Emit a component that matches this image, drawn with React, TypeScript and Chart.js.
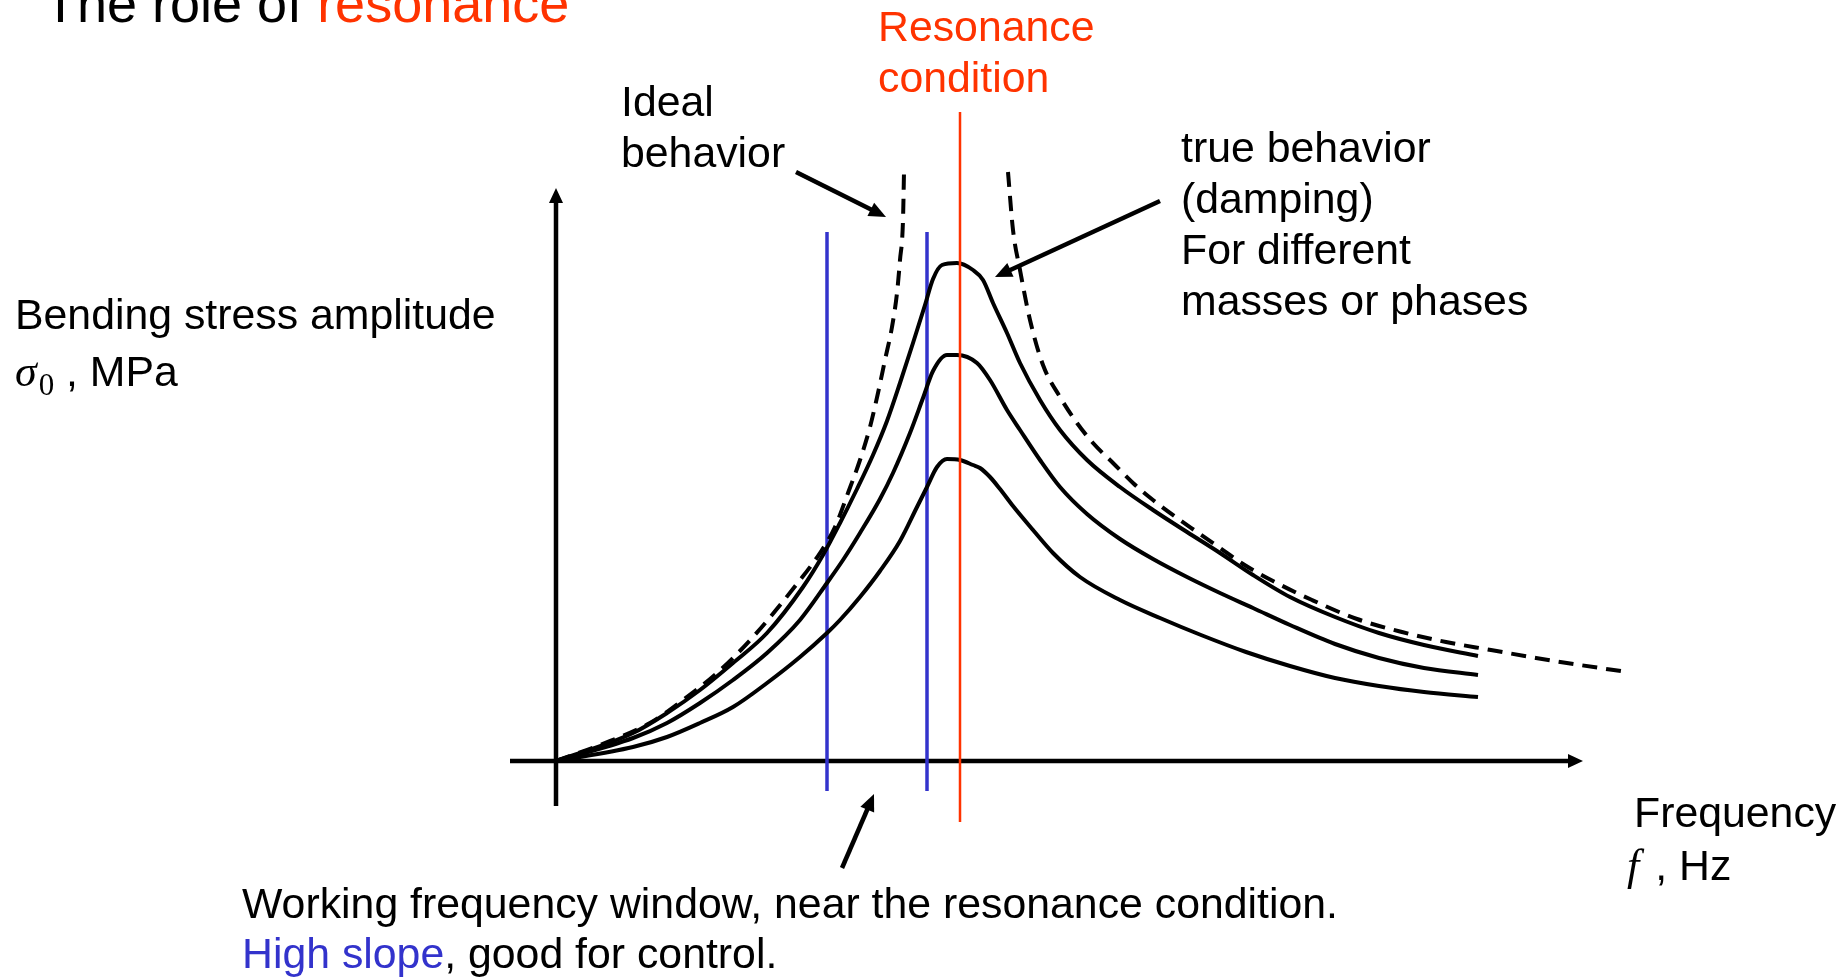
import React, { useEffect, useRef } from "react";
import { Chart, registerables } from "chart.js";

Chart.register(...registerables);

// ---------- data (arbitrary frequency / amplitude units) ----------
// Damped ("true behaviour") response curves
const dampedHighFreq = [0, 0.77, 1.11, 1.44, 1.77, 2.11, 2.47, 2.67, 2.84, 3.01, 3.17, 3.31, 3.44, 3.57, 3.69, 3.77, 3.86, 4.01, 4.17, 4.27, 4.37, 4.51, 4.64, 4.84, 5.04, 5.31, 5.64, 5.97, 6.31, 6.64, 6.97, 7.34, 7.79, 8.23, 8.68, 9.22];
const dampedHighAmp = [0, 0.28, 0.48, 0.71, 0.98, 1.28, 1.74, 2.06, 2.38, 2.72, 3.06, 3.4, 3.78, 4.18, 4.56, 4.82, 4.96, 4.98, 4.91, 4.81, 4.58, 4.28, 3.98, 3.61, 3.31, 3.01, 2.74, 2.51, 2.29, 2.08, 1.86, 1.64, 1.44, 1.28, 1.16, 1.05];

const dampedMidFreq = [0, 0.77, 1.11, 1.44, 1.77, 2.11, 2.44, 2.71, 2.87, 3.04, 3.24, 3.37, 3.54, 3.67, 3.77, 3.91, 4.01, 4.21, 4.34, 4.51, 4.64, 4.84, 5.04, 5.31, 5.64, 5.97, 6.31, 6.64, 6.97, 7.34, 7.79, 8.23, 8.68, 9.22];
const dampedMidAmp = [0, 0.23, 0.38, 0.58, 0.81, 1.08, 1.41, 1.78, 2.01, 2.28, 2.62, 2.88, 3.28, 3.63, 3.9, 4.06, 4.06, 3.98, 3.81, 3.51, 3.31, 3.01, 2.74, 2.47, 2.22, 2.02, 1.84, 1.68, 1.53, 1.36, 1.17, 1.03, 0.93, 0.86];

const dampedLowFreq = [0, 0.77, 1.11, 1.44, 1.77, 2.11, 2.44, 2.71, 2.84, 3.04, 3.24, 3.44, 3.61, 3.71, 3.81, 3.91, 4.04, 4.17, 4.24, 4.34, 4.44, 4.57, 4.77, 4.97, 5.24, 5.64, 6.04, 6.45, 6.9, 7.34, 7.79, 8.23, 8.68, 9.22];
const dampedLowAmp = [0, 0.14, 0.24, 0.38, 0.54, 0.78, 1.04, 1.28, 1.41, 1.64, 1.9, 2.2, 2.54, 2.74, 2.94, 3.02, 3.01, 2.96, 2.93, 2.84, 2.72, 2.55, 2.31, 2.08, 1.84, 1.61, 1.43, 1.26, 1.09, 0.95, 0.83, 0.75, 0.69, 0.64];

// Ideal (undamped) response, below and above resonance
const idealBelowFreq = [0, 0.44, 0.94, 1.27, 1.61, 1.97, 2.44, 2.64, 2.79, 2.92, 3.04, 3.14, 3.22, 3.29, 3.36, 3.41, 3.44, 3.47, 3.48];
const idealBelowAmp = [0, 0.16, 0.38, 0.61, 0.88, 1.24, 1.81, 2.08, 2.34, 2.68, 3.01, 3.34, 3.68, 4.01, 4.34, 4.68, 5.01, 5.41, 5.89];
const idealAboveFreq = [4.52, 4.57, 4.64, 4.74, 4.87, 5.04, 5.21, 5.37, 5.57, 5.77, 5.97, 6.21, 6.41, 6.64, 6.87, 7.17, 7.56, 8.01, 8.46, 8.9, 9.35, 9.8, 10.24, 10.71];
const idealAboveAmp = [5.89, 5.31, 4.91, 4.41, 3.96, 3.64, 3.38, 3.18, 2.98, 2.78, 2.61, 2.43, 2.29, 2.13, 1.97, 1.8, 1.61, 1.42, 1.29, 1.19, 1.11, 1.03, 0.96, 0.89];

// Working frequency window edges and resonance frequency
const windowEdges = [2.71, 3.71];
const windowSpan = [-0.3, 5.29];
const resonanceFreq = [4.04];
const resonanceSpan = [-0.61, 6.49];

// Axis extents (data units)
const freqAxisRange = [-0.46, 10.27];
const ampAxisRange = [-0.45, 5.73];

// ---------- styling ----------
const SANS = '"Liberation Sans", Arial, Helvetica, sans-serif';
const SERIF = '"Liberation Serif", "Times New Roman", serif';
const BODY = `42.8px ${SANS}`;
const RED = "#ff3300";
const BLUE = "#3333cc";

const pts = (xs: number[], ys: number[]) => xs.map((x, i) => ({ x, y: ys[i] }));

function arrow(ctx: CanvasRenderingContext2D, x1: number, y1: number, x2: number, y2: number, w: number, headLen: number, headW: number) {
  const a = Math.atan2(y2 - y1, x2 - x1);
  const c = Math.cos(a), s = Math.sin(a);
  const bx = x2 - headLen * c, by = y2 - headLen * s;
  ctx.lineWidth = w;
  ctx.lineCap = "butt";
  ctx.beginPath();
  ctx.moveTo(x1, y1);
  ctx.lineTo(bx + c * 2, by + s * 2);
  ctx.stroke();
  ctx.beginPath();
  ctx.moveTo(x2, y2);
  ctx.lineTo(bx + (headW / 2) * s, by - (headW / 2) * c);
  ctx.lineTo(bx - (headW / 2) * s, by + (headW / 2) * c);
  ctx.closePath();
  ctx.fill();
}

function runs(ctx: CanvasRenderingContext2D, x: number, y: number, parts: { t: string; c?: string; f?: string; dy?: number; dx?: number }[]) {
  let cx = x;
  for (const p of parts) {
    ctx.font = p.f || BODY;
    ctx.fillStyle = p.c || "#000";
    cx += p.dx || 0;
    ctx.fillText(p.t, cx, y + (p.dy || 0));
    cx += ctx.measureText(p.t).width;
  }
}

const diagramPlugin = {
  id: "diagram",
  beforeDatasetsDraw(chart: any) {
    const { ctx } = chart;
    const xs = chart.scales.x, ys = chart.scales.y;
    ctx.save();
    ctx.strokeStyle = "#000";
    ctx.fillStyle = "#000";
    arrow(ctx, xs.getPixelForValue(freqAxisRange[0]), ys.getPixelForValue(0), xs.getPixelForValue(freqAxisRange[1]), ys.getPixelForValue(0), 4.5, 15, 14);
    arrow(ctx, xs.getPixelForValue(0), ys.getPixelForValue(ampAxisRange[0]), xs.getPixelForValue(0), ys.getPixelForValue(ampAxisRange[1]), 4.5, 15, 14);
    ctx.restore();
  },
  afterDatasetsDraw(chart: any) {
    const { ctx } = chart;
    const xs = chart.scales.x, ys = chart.scales.y;
    const P = (fx: number, fy: number) => [xs.getPixelForValue(fx), ys.getPixelForValue(fy)];
    ctx.save();
    ctx.strokeStyle = "#000";
    ctx.fillStyle = "#000";
    const a1 = [...P(2.4, 5.89), ...P(3.3, 5.44)];
    arrow(ctx, a1[0], a1[1], a1[2], a1[3], 4.5, 17, 15);
    const a2 = [...P(6.04, 5.6), ...P(4.39, 4.84)];
    arrow(ctx, a2[0], a2[1], a2[2], a2[3], 4.5, 17, 15);
    const a3 = [...P(2.86, -1.07), ...P(3.18, -0.33)];
    arrow(ctx, a3[0], a3[1], a3[2], a3[3], 4.5, 17, 15);

    ctx.textBaseline = "alphabetic";
    ctx.textAlign = "left";
    runs(ctx, 44, 22, [
      { t: "The role of ", f: `54px ${SANS}` },
      { t: "resonance", c: RED, f: `54px ${SANS}` },
    ]);
    runs(ctx, 878, 41, [{ t: "Resonance", c: RED }]);
    runs(ctx, 878, 92, [{ t: "condition", c: RED }]);
    runs(ctx, 621, 116, [{ t: "Ideal" }]);
    runs(ctx, 621, 167, [{ t: "behavior" }]);
    runs(ctx, 1181, 162, [{ t: "true behavior" }]);
    runs(ctx, 1181, 213, [{ t: "(damping)" }]);
    runs(ctx, 1181, 264, [{ t: "For different" }]);
    runs(ctx, 1181, 315, [{ t: "masses or phases" }]);
    runs(ctx, 15, 329, [{ t: "Bending stress amplitude" }]);
    runs(ctx, 15, 386, [
      { t: "\u03c3", f: `italic 44px ${SERIF}` },
      { t: "0", f: `31px ${SERIF}`, dy: 9, dx: 2 },
      { t: " , MPa" },
    ]);
    runs(ctx, 1634, 827, [{ t: "Frequency" }]);
    runs(ctx, 1627, 880, [
      { t: "f", f: `italic 44px ${SERIF}` },
      { t: ", Hz", dx: 16 },
    ]);
    runs(ctx, 242, 918, [{ t: "Working frequency window, near the resonance condition." }]);
    runs(ctx, 242, 968, [
      { t: "High slope", c: BLUE },
      { t: ", good for control." },
    ]);
    ctx.restore();
  },
};

export default function App() {
  const ref = useRef<HTMLCanvasElement | null>(null);
  useEffect(() => {
    const canvas = ref.current;
    if (!canvas) return;
    const curve = (label: string, data: any[], dashed = false) => ({
      label,
      data,
      borderColor: "#000",
      borderWidth: 4,
      borderDash: dashed ? [15, 9] : [],
      cubicInterpolationMode: "monotone" as const,
      pointRadius: 0,
      fill: false,
      order: 1,
    });
    const vline = (label: string, fx: number, span: number[], color: string, w: number, order: number) => ({
      label,
      data: [
        { x: fx, y: span[0] },
        { x: fx, y: span[1] },
      ],
      borderColor: color,
      borderWidth: w,
      tension: 0,
      pointRadius: 0,
      fill: false,
      order,
    });
    const chart = new Chart(canvas, {
      type: "line",
      data: {
        datasets: [
          vline("Resonance", resonanceFreq[0], resonanceSpan, RED, 2.5, 0),
          curve("Ideal (below)", pts(idealBelowFreq, idealBelowAmp), true),
          curve("Ideal (above)", pts(idealAboveFreq, idealAboveAmp), true),
          curve("Damped 1", pts(dampedHighFreq, dampedHighAmp)),
          curve("Damped 2", pts(dampedMidFreq, dampedMidAmp)),
          curve("Damped 3", pts(dampedLowFreq, dampedLowAmp)),
          vline("Window low", windowEdges[0], windowSpan, BLUE, 3.5, 2),
          vline("Window high", windowEdges[1], windowSpan, BLUE, 3.5, 2),
        ],
      },
      options: {
        responsive: false,
        animation: false,
        devicePixelRatio: 1,
        layout: { padding: 0 },
        plugins: {
          legend: { display: false },
          tooltip: { enabled: false },
          title: { display: false },
        },
        scales: {
          x: { type: "linear", min: -5.56, max: 12.89, display: false },
          y: { type: "linear", min: -2.19, max: 7.61, display: false },
        },
        elements: { point: { radius: 0 } },
      },
      plugins: [diagramPlugin],
    } as any);
    return () => chart.destroy();
  }, []);
  return (
    <div style={{ position: "absolute", left: 0, top: 0, width: 1845, height: 980, background: "#fff" }}>
      <canvas ref={ref} width={1845} height={980} style={{ display: "block" }} />
    </div>
  );
}
